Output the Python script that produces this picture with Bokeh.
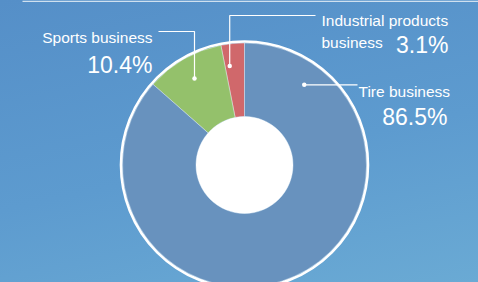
import numpy as np
from bokeh.plotting import figure
from bokeh.models import Range1d, ColumnDataSource
from bokeh.core.properties import value
from bokeh.embed import file_html
from bokeh.resources import INLINE

# ---- data ----
categories = ["Industrial products business", "Sports business", "Tire business"]
shares = [3.1, 10.4, 86.5]
colors = ["#d0686b", "#94c16b", "#6892be"]

# ---- layout (reference pixel frame, y measured downward) ----
CX, CY = 244.0, 164.5
R_OUT, R_IN, R_RING = 122.0, 48.5, 123.5
W, H = 478.0, 282.0

def Y(y):
    return H - y

p = figure(width=478, height=282, output_backend="svg", toolbar_location=None,
           x_range=Range1d(0, W), y_range=Range1d(0, H), min_border=0)
p.axis.visible = False
p.grid.visible = False
p.outline_line_color = None
p.background_fill_color = None
p.border_fill_color = None
p.styles = {"background": "linear-gradient(168deg, #558fc8 0%, #5d9bcf 55%, #6aaad4 100%)"}

# thin light strip at the top
p.quad(left=[22], right=[W], top=[H], bottom=[Y(1.5)], fill_color="#cfe0ef", line_color=None)

# slices: counter-clockwise from 12 o'clock
frac = np.array(shares) / np.sum(shares)
ends = np.pi / 2 + 2 * np.pi * np.cumsum(frac)
starts = np.concatenate([[np.pi / 2], ends[:-1]])
src = ColumnDataSource(dict(start=starts, end=ends, color=colors, cat=categories))
p.annular_wedge(x=CX, y=Y(CY), inner_radius=R_IN, outer_radius=R_OUT,
                start_angle="start", end_angle="end", fill_color="color",
                line_color="white", line_alpha=0.5, line_width=0.8, source=src)
p.circle(x=CX, y=Y(CY), radius=R_IN, fill_color="white", line_color=None)
p.circle(x=CX, y=Y(CY), radius=R_RING, fill_color=None, line_color="white", line_width=2.6)

# leader lines & labels
anchor_deg = {"Industrial products business": 98.5, "Sports business": 120.0, "Tire business": 53.3}
R_DOT = 100.0
dots = {}
for c in categories:
    a = np.deg2rad(anchor_deg[c])
    dots[c] = (CX + R_DOT * np.cos(a), Y(CY) + R_DOT * np.sin(a))

lab_font = value("Liberation Sans")
pct_font = value("Liberation Sans")
LAB = "15.5px"
PCT = "23px"

dx, dy = dots["Sports business"]
p.line([dx, dx, 158], [dy, Y(31), Y(31)], line_color="white", line_width=1.2)
ix, iy = dots["Industrial products business"]
p.line([ix, ix, 315], [iy, Y(15), Y(15)], line_color="white", line_width=1.2)
tx, ty = dots["Tire business"]
p.line([tx, 357], [ty, ty], line_color="white", line_width=1.2)
p.scatter([dx, ix, tx], [dy, iy, ty], size=4.5, fill_color="white", line_color=None)

pct = {c: f"{s}%" for c, s in zip(categories, shares)}

p.text(x=[152], y=[Y(36.5)], text=["Sports business"], text_font=lab_font,
       text_font_size=LAB, text_color="white", text_align="right", text_baseline="alphabetic")
p.text(x=[152], y=[Y(64)], text=[pct["Sports business"]], text_font=pct_font,
       text_font_size=PCT, text_color="white", text_align="right", text_baseline="alphabetic")

p.text(x=[321], y=[Y(19.5)], text=["Industrial products"], text_font=lab_font,
       text_font_size=LAB, text_color="white", text_align="left", text_baseline="alphabetic")
p.text(x=[321], y=[Y(41.5)], text=["business"], text_font=lab_font,
       text_font_size=LAB, text_color="white", text_align="left", text_baseline="alphabetic")
p.text(x=[448], y=[Y(44.3)], text=[pct["Industrial products business"]], text_font=pct_font,
       text_font_size=PCT, text_color="white", text_align="right", text_baseline="alphabetic")

p.text(x=[358], y=[Y(90.7)], text=["Tire business"], text_font=lab_font,
       text_font_size=LAB, text_color="white", text_align="left", text_baseline="alphabetic")
p.text(x=[447], y=[Y(116.7)], text=[pct["Tire business"]], text_font=pct_font,
       text_font_size=PCT, text_color="white", text_align="right", text_baseline="alphabetic")

open("out.html", "w").write(file_html(p, INLINE))
